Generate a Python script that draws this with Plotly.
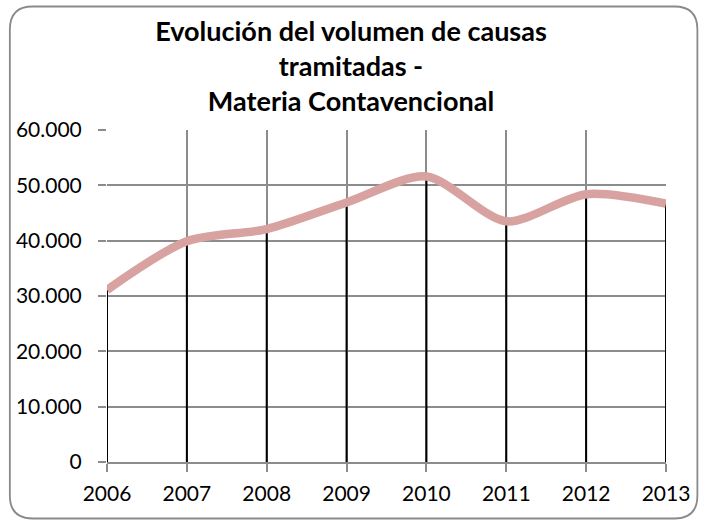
import plotly.graph_objects as go

years = [2006, 2007, 2008, 2009, 2010, 2011, 2012, 2013]
causas = [31100, 39900, 42100, 46900, 51600, 43500, 48400, 46700]
y_ticks = [0, 10000, 20000, 30000, 40000, 50000, 60000]
y_tick_labels = ["0", "10.000", "20.000", "30.000", "40.000", "50.000", "60.000"]
title_lines = ["Evolución del volumen de causas", "tramitadas -", "Materia Contavencional"]

W, H = 702, 525
ML, MR, MT, MB = 107, 34, 130, 63
PW, PH = W - ML - MR, H - MT - MB

def px(x):
    return (x - ML) / PW

def py(y):
    return (H - MB - y) / PH

# drop lines from axis to each value
drop_x, drop_y = [], []
for yr, v in zip(years, causas):
    drop_x += [yr, yr, None]
    drop_y += [0, v, None]

fig = go.Figure()
fig.add_trace(go.Scatter(x=drop_x, y=drop_y, mode="lines",
                         line=dict(color="black", width=2),
                         hoverinfo="skip", showlegend=False))
fig.add_trace(go.Scatter(x=years, y=causas, mode="lines",
                         line=dict(color="#D8A2A1", width=8.5, shape="spline", smoothing=0.8),
                         showlegend=False))

# rounded border
x0, x1, y0, y1, r = 9.5, 699.5, 6.5, 518.5, 23
path = (f"M {px(x0+r)},{py(y0)} L {px(x1-r)},{py(y0)} Q {px(x1)},{py(y0)} {px(x1)},{py(y0+r)} "
        f"L {px(x1)},{py(y1-r)} Q {px(x1)},{py(y1)} {px(x1-r)},{py(y1)} "
        f"L {px(x0+r)},{py(y1)} Q {px(x0)},{py(y1)} {px(x0)},{py(y1-r)} "
        f"L {px(x0)},{py(y0+r)} Q {px(x0)},{py(y0)} {px(x0+r)},{py(y0)} Z")
fig.add_shape(type="path", path=path, xref="paper", yref="paper",
              line=dict(color="#8A8A8A", width=1.8), layer="below")

grid = "#8C8C8C"
fig.update_layout(
    width=W, height=H,
    margin=dict(l=ML, r=MR, t=MT, b=MB, pad=0),
    paper_bgcolor="white", plot_bgcolor="white",
    font=dict(family="Lato", size=21, color="black"),
    title=dict(text="<br>".join(title_lines), x=0.5, xanchor="center",
               y=1 - 41 / H, yanchor="top", yref="container",
               font=dict(family="Lato", size=27, color="black", weight="bold")),
    xaxis=dict(range=[2006, 2013], tickmode="array", tickvals=years,
               ticktext=[str(y) for y in years],
               showgrid=True, gridcolor=grid, gridwidth=1.5,
               showline=True, linecolor=grid, linewidth=1.5, mirror=False,
               ticks="outside", ticklen=8, tickcolor=grid, tickwidth=1.5,
               ticklabelstandoff=4,
               zeroline=False, fixedrange=True),
    yaxis=dict(range=[0, 60000], tickmode="array", tickvals=y_ticks,
               ticktext=y_tick_labels,
               showgrid=True, gridcolor=grid, gridwidth=1.5,
               showline=False, ticks="outside", ticklen=8, tickcolor=grid,
               tickwidth=1.5, ticklabelstandoff=12,
               zeroline=False, fixedrange=True),
)

fig.write_html("out.html", config={"displayModeBar": False},
               post_script="document.body.style.margin='0';document.body.style.overflow='hidden';")
